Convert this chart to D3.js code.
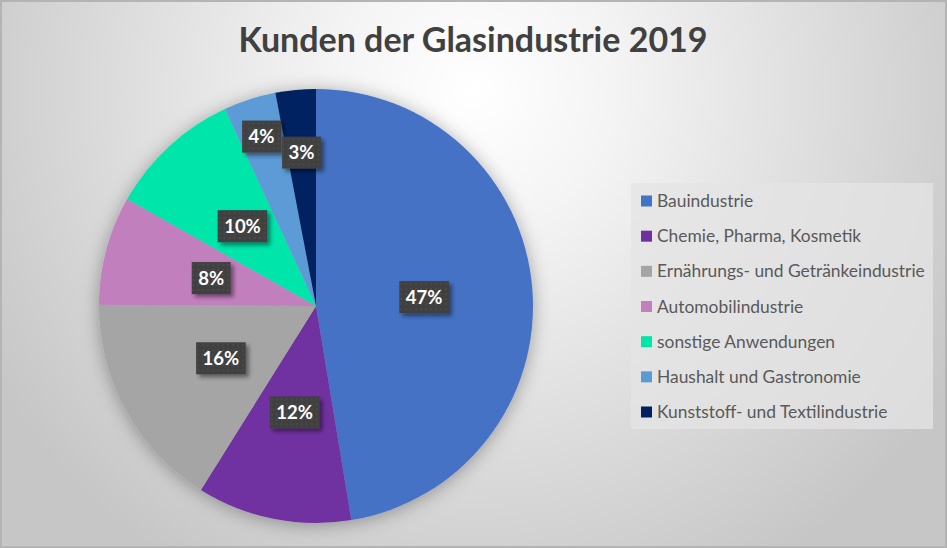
<!DOCTYPE html>
<html>
<head>
<meta charset="utf-8">
<script src="https://cdn.jsdelivr.net/npm/d3@7"></script>
<style>
  html, body { margin: 0; padding: 0; background: #fff; }
  svg { display: block; }
</style>
</head>
<body>
<div id="chart"></div>
<script>
// data (shares in percent)
var categories = ["Bauindustrie", "Chemie, Pharma, Kosmetik", "Ernährungs- und Getränkeindustrie",
    "Automobilindustrie", "sonstige Anwendungen", "Haushalt und Gastronomie", "Kunststoff- und Textilindustrie"];
var shares = [47.4, 11.5, 16.2, 8.1, 9.9, 3.9, 3.0];
var colors = ["#4472C4", "#7030A0", "#A5A5A5", "#C17FBE", "#00E6AA", "#5B9BD5", "#002060"];
var title = "Kunden der Glasindustrie 2019";

var W = 947, H = 548;
var cx = 316, cy = 306, R = 217;

var data = categories.map(function(c, i){ return {name: c, value: shares[i]}; });

var svg = d3.select("#chart").append("svg")
    .attr("width", W)
    .attr("height", H);

var defs = svg.append("defs");

var bg = defs.append("radialGradient")
    .attr("id", "bg")
    .attr("gradientUnits", "userSpaceOnUse")
    .attr("cx", 473).attr("cy", 90).attr("r", 560);
bg.append("stop").attr("offset", "0%").attr("stop-color", "#ffffff");
bg.append("stop").attr("offset", "25%").attr("stop-color", "#f4f4f4");
bg.append("stop").attr("offset", "100%").attr("stop-color", "#c6c6c6");

var pieShadow = defs.append("filter").attr("id", "pieShadow")
    .attr("x", "-20%").attr("y", "-20%").attr("width", "140%").attr("height", "140%");
pieShadow.append("feDropShadow")
    .attr("dx", 0).attr("dy", 2).attr("stdDeviation", 9)
    .attr("flood-color", "#000").attr("flood-opacity", 0.33);

var lblShadow = defs.append("filter").attr("id", "lblShadow")
    .attr("x", "-30%").attr("y", "-30%").attr("width", "170%").attr("height", "180%");
lblShadow.append("feDropShadow")
    .attr("dx", 3).attr("dy", 3).attr("stdDeviation", 2)
    .attr("flood-color", "#000").attr("flood-opacity", 0.45);

var pat = defs.append("pattern").attr("id", "dots")
    .attr("patternUnits", "userSpaceOnUse")
    .attr("width", 5).attr("height", 5);
pat.append("rect").attr("width", 5).attr("height", 5).attr("fill", "#404040");
pat.append("rect").attr("x", 1).attr("y", 1).attr("width", 2).attr("height", 2).attr("fill", "#4a4a4a");

// background + frame
svg.append("rect")
    .attr("x", 1).attr("y", 1)
    .attr("width", W - 2).attr("height", H - 2)
    .attr("fill", "url(#bg)")
    .attr("stroke", "#b4b4b4")
    .attr("stroke-width", 2);

svg.append("text")
    .attr("x", 473)
    .attr("y", 52)
    .attr("text-anchor", "middle")
    .attr("font-family", "Lato, 'Noto Sans', sans-serif")
    .attr("font-weight", "bold")
    .attr("font-size", "34px")
    .attr("fill", "#404040")
    .text(title);

var color = d3.scaleOrdinal().domain(categories).range(colors);

var pie = d3.pie()
    .sort(null)
    .value(function(d){ return d.value; });

var arcs = pie(data);

var arc = d3.arc().innerRadius(0).outerRadius(R);

var g = svg.append("g")
    .attr("transform", "translate(" + cx + "," + cy + ")");

g.append("g")
    .attr("filter", "url(#pieShadow)")
    .selectAll("path")
    .data(arcs)
    .enter().append("path")
    .attr("d", arc)
    .attr("fill", function(d){ return color(d.data.name); });

// thin slices get their label pushed outward (best fit)
var labelFactor = function(d){
    if (d.data.name === "Haushalt und Gastronomie") return 0.82;
    if (d.data.name === "Kunststoff- und Textilindustrie") return 0.71;
    return 0.5;
};

var labels = g.selectAll("g.lbl")
    .data(arcs)
    .enter().append("g")
    .attr("class", "lbl")
    .attr("transform", function(d){
        var f = labelFactor(d) * R;
        var c = d3.arc().innerRadius(f).outerRadius(f).centroid(d);
        return "translate(" + c[0] + "," + c[1] + ")";
    });

labels.each(function(d){
    var sel = d3.select(this);
    var txt = sel.append("text")
        .attr("text-anchor", "middle")
        .attr("dy", "0.35em")
        .attr("font-family", "Lato, 'Noto Sans', sans-serif")
        .attr("font-weight", "bold")
        .attr("font-size", "18.5px")
        .attr("fill", "#ffffff")
        .text(Math.round(d.data.value) + "%");
    var w = txt.node().getComputedTextLength() + 13;
    sel.insert("rect", "text")
        .attr("x", -w / 2)
        .attr("y", -16)
        .attr("width", w)
        .attr("height", 32)
        .attr("fill", "url(#dots)")
        .attr("filter", "url(#lblShadow)");
});

// legend
var legend = svg.append("g")
    .attr("transform", "translate(631,183)");

legend.append("rect")
    .attr("width", 302)
    .attr("height", 246)
    .attr("fill", "#e4e4e4")
    .attr("fill-opacity", 0.75);

var ly = d3.scalePoint()
    .domain(categories)
    .range([18, 229]);

var item = legend.selectAll("g.item")
    .data(categories)
    .enter().append("g")
    .attr("class", "item")
    .attr("transform", function(d){ return "translate(0," + ly(d) + ")"; });

item.append("rect")
    .attr("x", 10)
    .attr("y", -5.5)
    .attr("width", 11)
    .attr("height", 11)
    .attr("fill", function(d){ return color(d); });

item.append("text")
    .attr("x", 26)
    .attr("dy", "0.35em")
    .attr("font-family", "Lato, 'Noto Sans', sans-serif")
    .attr("font-size", "17.4px")
    .attr("fill", "#595959")
    .text(function(d){ return d; });
</script>
</body>
</html>
